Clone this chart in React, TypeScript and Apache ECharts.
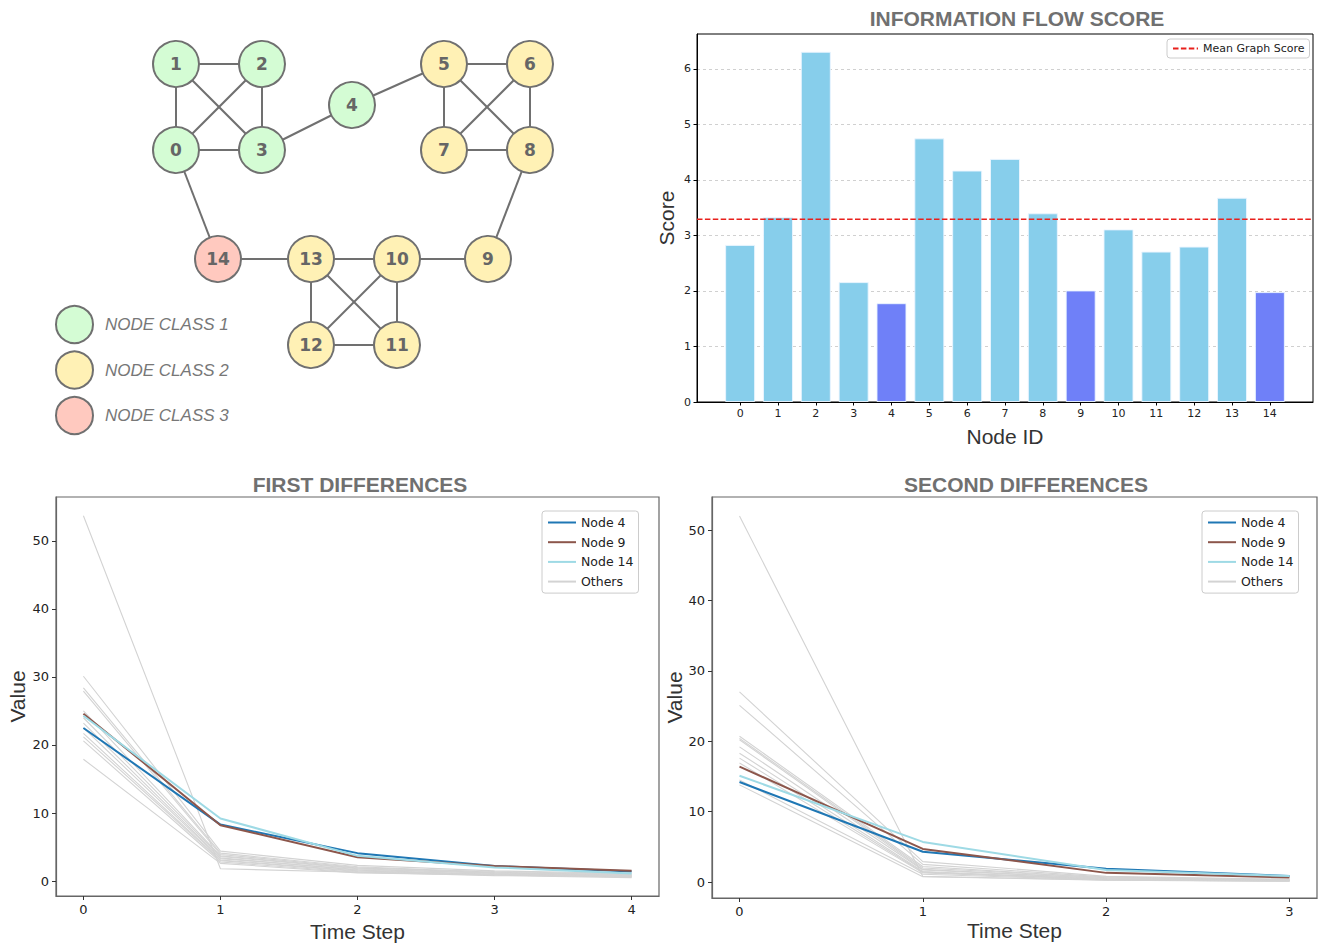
import React, { useEffect, useRef } from 'react';
import * as echarts from 'echarts';

// ---------- Network ----------
const NODE_IDS = [0, 1, 2, 3, 4, 5, 6, 7, 8, 9, 10, 11, 12, 13, 14];
const NODE_CLASS = [0, 0, 0, 0, 0, 1, 1, 1, 1, 1, 1, 1, 1, 1, 2];
const NODE_X = [176, 176, 262, 262, 352, 444, 530, 444, 530, 488, 397, 397, 311, 311, 218];
const NODE_Y = [150, 64, 64, 150, 105, 64, 64, 150, 150, 259, 259, 345, 345, 259, 259];
const EDGES = [
  [0, 1], [1, 2], [0, 3], [2, 3], [1, 3], [0, 2], [3, 4], [4, 5],
  [5, 6], [5, 7], [6, 8], [7, 8], [5, 8], [6, 7], [8, 9], [9, 10],
  [10, 13], [13, 14], [0, 14], [13, 12], [10, 11], [11, 12], [13, 11], [10, 12],
];
const CLASS_NAMES = ['NODE CLASS 1', 'NODE CLASS 2', 'NODE CLASS 3'];
const CLASS_COLORS = ['#d4fcd4', '#fff1b5', '#ffc9bf'];

// ---------- Information flow score ----------
const SCORES = [2.83, 3.33, 6.31, 2.16, 1.78, 4.75, 4.17, 4.38, 3.4, 2.01, 3.11, 2.71, 2.8, 3.68, 1.98];
const HIGHLIGHT_NODES = [4, 9, 14];
const SCORE_TICKS = [0, 1, 2, 3, 4, 5, 6];

// ---------- Differences ----------
const HIGHLIGHT_NAMES = ['Node 4', 'Node 9', 'Node 14'];
const HIGHLIGHT_COLORS = ['#1f77b4', '#8c564b', '#9edae5'];
const VALUE_TICKS = [0, 10, 20, 30, 40, 50];

const FIRST_STEPS = [0, 1, 2, 3, 4];
const FIRST_NODE4 = [22.5, 8.3, 4.1, 2.2, 1.4];
const FIRST_NODE9 = [24.6, 8.2, 3.5, 2.2, 1.5];
const FIRST_NODE14 = [24.3, 9.2, 3.7, 2.0, 1.1];
const FIRST_OTHERS = [
  [53.7, 1.8, 1.3, 0.9, 0.6],
  [30.1, 4.4, 2.3, 1.5, 1.1],
  [28.4, 4.1, 2.1, 1.3, 0.9],
  [27.9, 3.9, 2.0, 1.2, 0.8],
  [25.0, 3.7, 1.9, 1.4, 1.0],
  [24.0, 3.6, 1.8, 1.1, 0.7],
  [23.2, 3.4, 1.6, 1.0, 0.7],
  [22.5, 3.3, 1.7, 1.2, 0.9],
  [21.7, 3.1, 1.5, 0.9, 0.6],
  [21.2, 3.0, 1.4, 1.0, 0.8],
  [20.6, 2.8, 1.3, 0.8, 0.5],
  [17.9, 2.6, 1.2, 0.9, 0.7],
];

const SECOND_STEPS = [0, 1, 2, 3];
const SECOND_NODE4 = [14.2, 4.3, 1.9, 0.85];
const SECOND_NODE9 = [16.4, 4.7, 1.3, 0.65];
const SECOND_NODE14 = [15.1, 5.7, 1.7, 0.85];
const SECOND_OTHERS = [
  [52.0, 0.8, 0.3, 0.15],
  [27.0, 2.9, 0.8, 0.4],
  [25.1, 2.5, 0.7, 0.35],
  [20.7, 2.2, 0.6, 0.3],
  [20.4, 2.0, 0.6, 0.3],
  [20.2, 1.8, 0.5, 0.25],
  [19.2, 1.7, 0.5, 0.3],
  [18.3, 1.5, 0.4, 0.2],
  [17.6, 1.4, 0.4, 0.2],
  [16.9, 1.3, 0.35, 0.2],
  [14.5, 1.1, 0.3, 0.15],
  [13.8, 0.75, 0.25, 0.1],
];

const TICK_FONT = '"DejaVu Sans", sans-serif';
const NAME_FONT = '"Liberation Sans", Arial, sans-serif';

function pairs(xs: number[], ys: number[]) {
  return xs.map((x, i) => [x, ys[i]]);
}

function buildOption() {
  const mean = SCORES.reduce((a, b) => a + b, 0) / SCORES.length;
  const nameStyle = { fontSize: 21, color: '#333', fontFamily: NAME_FONT };

  const lineAxisX = (grid: number, min: number, max: number, steps: number[], gap: number) => ({
    gridIndex: grid, type: 'value', min, max,
    name: 'Time Step', nameLocation: 'middle', nameGap: gap, nameTextStyle: nameStyle,
    axisLine: { show: true, onZero: false, lineStyle: { color: '#666', width: 1.2 } },
    axisTick: { show: true, customValues: steps, length: 4, lineStyle: { color: '#333' } },
    axisLabel: { customValues: steps, fontSize: 13, color: '#222', margin: 7, fontFamily: TICK_FONT },
    splitLine: { show: false },
  });
  const lineAxisY = (grid: number, min: number, max: number, gap: number) => ({
    gridIndex: grid, type: 'value', min, max,
    name: 'Value', nameLocation: 'middle', nameGap: gap, nameTextStyle: nameStyle,
    axisLine: { show: true, onZero: false, lineStyle: { color: '#666', width: 1.2 } },
    axisTick: { show: true, customValues: VALUE_TICKS, length: 4, lineStyle: { color: '#333' } },
    axisLabel: { customValues: VALUE_TICKS, fontSize: 13, color: '#222', margin: 7, fontFamily: TICK_FONT },
    splitLine: { show: false },
  });

  const lineSeries = (axis: number, steps: number[], others: number[][], hl: number[][]) => [
    ...others.map((arr) => ({
      type: 'line', name: 'Others', xAxisIndex: axis, yAxisIndex: axis,
      data: pairs(steps, arr), symbol: 'none',
      lineStyle: { color: '#d3d3d3', width: 1.1 }, itemStyle: { color: '#d3d3d3' },
    })),
    ...hl.map((arr, k) => ({
      type: 'line', name: HIGHLIGHT_NAMES[k], xAxisIndex: axis, yAxisIndex: axis,
      data: pairs(steps, arr), symbol: 'none',
      lineStyle: { color: HIGHLIGHT_COLORS[k], width: 2 }, itemStyle: { color: HIGHLIGHT_COLORS[k] },
    })),
  ];

  const lineLegend = (left: number) => ({
    data: [...HIGHLIGHT_NAMES, 'Others'], orient: 'vertical', left, top: 511,
    itemWidth: 28, itemHeight: 12, itemGap: 6.7, padding: [5, 5, 5, 5],
    backgroundColor: '#fff', borderColor: '#ccc', borderWidth: 1, borderRadius: 3,
    itemStyle: { opacity: 0 },
    lineStyle: { width: 2 },
    textStyle: { fontSize: 12.5, color: '#222', fontFamily: TICK_FONT },
  });

  return {
    animation: false,
    backgroundColor: '#fff',
    grid: [
      { left: 697, top: 34, width: 616, height: 368, show: true, borderColor: '#000', borderWidth: 1, backgroundColor: 'transparent' },
      { left: 56, top: 497, width: 603, height: 400, show: true, borderColor: '#666', borderWidth: 1.2, backgroundColor: 'transparent' },
      { left: 712, top: 497, width: 605, height: 401, show: true, borderColor: '#666', borderWidth: 1.2, backgroundColor: 'transparent' },
      { left: 0, top: 0, width: 660, height: 450, show: false },
    ],
    xAxis: [
      {
        gridIndex: 0, type: 'value', min: -1.14, max: 15.14,
        name: 'Node ID', nameLocation: 'middle', nameGap: 24, nameTextStyle: nameStyle,
        axisLine: { show: true, onZero: false, lineStyle: { color: '#000', width: 1 } },
        axisTick: { show: true, customValues: NODE_IDS, length: 3.5, lineStyle: { color: '#000' } },
        axisLabel: { customValues: NODE_IDS, fontSize: 11, color: '#222', margin: 6, fontFamily: TICK_FONT },
        splitLine: { show: false },
      },
      lineAxisX(1, -0.2, 4.2, FIRST_STEPS, 25),
      lineAxisX(2, -0.15, 3.15, SECOND_STEPS, 22),
      { gridIndex: 3, type: 'value', min: 0, max: 660, show: false },
    ],
    yAxis: [
      {
        gridIndex: 0, type: 'value', min: 0, max: 6.63,
        name: 'Score', nameLocation: 'middle', nameGap: 20, nameTextStyle: nameStyle,
        axisLine: { show: true, onZero: false, lineStyle: { color: '#000', width: 1 } },
        axisTick: { show: true, customValues: SCORE_TICKS, length: 3.5, lineStyle: { color: '#000' } },
        axisLabel: { customValues: SCORE_TICKS, fontSize: 11, color: '#222', margin: 6, fontFamily: TICK_FONT },
        splitLine: { show: true, lineStyle: { color: '#c4c4c4', width: 0.8, type: [3, 3] } },
      },
      lineAxisY(1, -2.2, 56.45, 28),
      lineAxisY(2, -2.27, 54.69, 23),
      { gridIndex: 3, type: 'value', min: 0, max: 450, inverse: true, show: false },
    ],
    legend: [
      {
        data: CLASS_NAMES, orient: 'vertical', left: 55, top: 305, padding: 0,
        icon: 'circle', itemWidth: 37, itemHeight: 37, itemGap: 6.5,
        itemStyle: { borderColor: '#707070', borderWidth: 2 },
        textStyle: { fontSize: 17, fontStyle: 'italic', color: '#777', fontFamily: NAME_FONT, padding: [0, 0, 0, 7] },
      },
      {
        data: ['Mean Graph Score'], left: 1167, top: 39, padding: [4, 5, 4, 5],
        itemWidth: 25, itemHeight: 10,
        itemStyle: { opacity: 0 },
        backgroundColor: '#fff', borderColor: '#ccc', borderWidth: 1, borderRadius: 3,
        textStyle: { fontSize: 11, color: '#222', fontFamily: TICK_FONT },
      },
      lineLegend(542),
      lineLegend(1202),
    ],
    graphic: [
      { type: 'text', x: 1017, y: 18, style: { text: 'INFORMATION FLOW SCORE', fill: '#707070', font: `bold 21px ${NAME_FONT}`, textAlign: 'center', textVerticalAlign: 'middle', align: 'center', verticalAlign: 'middle' } },
      { type: 'text', x: 360, y: 484, style: { text: 'FIRST DIFFERENCES', fill: '#707070', font: `bold 21px ${NAME_FONT}`, textAlign: 'center', textVerticalAlign: 'middle', align: 'center', verticalAlign: 'middle' } },
      { type: 'text', x: 1026, y: 484, style: { text: 'SECOND DIFFERENCES', fill: '#707070', font: `bold 21px ${NAME_FONT}`, textAlign: 'center', textVerticalAlign: 'middle', align: 'center', verticalAlign: 'middle' } },
    ],
    series: [
      {
        type: 'graph', coordinateSystem: 'cartesian2d', xAxisIndex: 3, yAxisIndex: 3,
        symbol: 'circle', symbolSize: 46,
        categories: CLASS_NAMES.map((n, i) => ({ name: n, itemStyle: { color: CLASS_COLORS[i] } })),
        data: NODE_IDS.map((id) => ({ name: String(id), value: [NODE_X[id], NODE_Y[id]], category: NODE_CLASS[id] })),
        links: EDGES.map(([s, t]) => ({ source: s, target: t })),
        itemStyle: { borderColor: '#707070', borderWidth: 2 },
        lineStyle: { color: '#707070', width: 2, opacity: 1, curveness: 0 },
        label: { show: true, position: 'inside', formatter: '{b}', fontSize: 17, fontWeight: 'bold', color: '#666', fontFamily: '"DejaVu Sans", sans-serif' },
        emphasis: { disabled: true },
        z: 3,
      },
      {
        type: 'bar', name: 'Score', xAxisIndex: 0, yAxisIndex: 0, barWidth: 30,
        data: SCORES.map((v, i) => ({
          value: [i, v],
          itemStyle: { color: HIGHLIGHT_NODES.includes(i) ? '#6f80f8' : '#87ceeb' },
        })),
        itemStyle: { borderColor: 'rgba(235,245,255,0.9)', borderWidth: 1 },
      },
      {
        type: 'line', name: 'Mean Graph Score', xAxisIndex: 0, yAxisIndex: 0,
        data: [[-1.14, mean], [15.14, mean]], symbol: 'none',
        lineStyle: { color: '#e8201c', width: 1.5, type: [5.5, 2.4] }, itemStyle: { color: '#e8201c' },
        z: 5,
      },
      ...lineSeries(1, FIRST_STEPS, FIRST_OTHERS, [FIRST_NODE4, FIRST_NODE9, FIRST_NODE14]),
      ...lineSeries(2, SECOND_STEPS, SECOND_OTHERS, [SECOND_NODE4, SECOND_NODE9, SECOND_NODE14]),
    ],
  };
}

export default function App() {
  const ref = useRef<HTMLDivElement>(null);
  useEffect(() => {
    const chart = echarts.init(ref.current as HTMLDivElement, null, { renderer: 'svg' });
    chart.setOption(buildOption() as any);
    return () => chart.dispose();
  }, []);
  return (
    <div
      ref={ref}
      style={{ position: 'fixed', left: 0, top: 0, width: 1318, height: 943, background: '#fff' }}
    />
  );
}
